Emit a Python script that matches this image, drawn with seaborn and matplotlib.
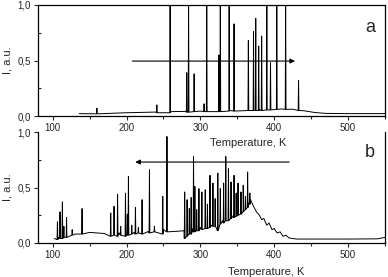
import numpy as np
import pandas as pd
import seaborn as sns
import matplotlib.pyplot as plt
from matplotlib.ticker import MultipleLocator, FuncFormatter

# panel a: slowly varying background
base_a_T = [136, 160, 200, 240, 260, 280, 300, 340, 380, 410, 425, 440, 455, 470, 500, 550]
base_a_I = [0.022, 0.024, 0.03, 0.036, 0.04, 0.042, 0.045, 0.05, 0.058, 0.064, 0.062, 0.048, 0.032, 0.024, 0.022, 0.022]
# panel a: spikes (1.05 = runs off the top of the axes)
spike_a_T = [159.8, 241, 259, 281.5, 284, 291.5, 305, 308.6, 325, 327, 339, 345.6,
             365, 372, 375, 379, 383, 390, 395, 403.5, 415.5, 433]
spike_a_hi = [0.07, 0.10, 1.05, 0.39, 1.05, 0.38, 0.11, 1.05, 0.55, 1.05, 1.05, 0.83,
              0.68, 0.76, 0.88, 0.63, 0.72, 1.05, 0.48, 1.05, 1.05, 0.32]
spike_a_lo = [0.02, 0.03, 0.03, 0.035, 0.035, 0.04, 0.04, 0.04, 0.04, 0.04, 0.045, 0.045,
              0.05, 0.05, 0.05, 0.05, 0.05, 0.055, 0.055, 0.06, 0.06, 0.05]

# panel b: background
base_b_T = [102, 108, 119, 130, 140, 150, 170, 190, 210, 230, 250, 268, 278, 290, 300, 315,
            330, 345, 358, 365, 368, 372, 376, 380, 383, 386, 390, 393, 397, 400, 404, 408,
            412, 416, 420, 430, 460, 500, 540, 550]
base_b_I = [0.04, 0.05, 0.06, 0.08, 0.09, 0.095, 0.085, 0.09, 0.095, 0.105, 0.12, 0.105, 0.11,
            0.13, 0.14, 0.16, 0.2, 0.25, 0.3, 0.36, 0.39, 0.33, 0.28, 0.25, 0.21, 0.22, 0.16,
            0.18, 0.12, 0.13, 0.09, 0.1, 0.06, 0.07, 0.045, 0.035, 0.035, 0.035, 0.037, 0.05]
spike_b_T = [106.3, 109.8, 113, 115, 118.7, 126.3, 139.7, 178.5, 183, 187.8, 192, 198.5, 201,
             202.5, 207, 212, 216, 221, 231, 237.7, 249, 254.7,
             278.7, 282, 285, 287.5, 290.7, 292.5, 295, 298, 302, 306.6, 309.5, 313, 317, 320,
             323.6, 327, 331.5, 334.4, 338, 341.5, 345.6, 348.5, 351, 355, 358, 361, 364, 367]
spike_b_hi = [0.19, 0.28, 0.37, 0.15, 0.23, 0.12, 0.31, 0.27, 0.33, 0.44, 0.15, 0.45, 0.26,
              0.60, 0.16, 0.32, 0.14, 0.39, 0.66, 0.15, 0.42, 0.96,
              0.46, 0.39, 0.31, 0.41, 0.78, 0.51, 0.30, 0.49, 0.46, 0.48, 0.35, 0.61, 0.54, 0.40,
              0.63, 0.49, 0.54, 0.78, 0.67, 0.55, 0.61, 0.45, 0.54, 0.46, 0.52, 0.42, 0.64, 0.45]
spike_b_lo = [0.03, 0.04, 0.04, 0.05, 0.05, 0.07, 0.08, 0.06, 0.07, 0.06, 0.07, 0.06, 0.07,
              0.07, 0.08, 0.08, 0.09, 0.08, 0.09, 0.10, 0.08, 0.10,
              0.04, 0.06, 0.08, 0.08, 0.10, 0.10, 0.11, 0.11, 0.12, 0.13, 0.13, 0.14, 0.15, 0.15,
              0.11, 0.17, 0.18, 0.20, 0.20, 0.22, 0.23, 0.24, 0.25, 0.26, 0.28, 0.30, 0.32, 0.35]


def trace(bT, bI, sT, shi, slo):
    T = list(bT)
    I = list(bI)
    for t, h, l in zip(sT, shi, slo):
        T += [t - 0.5, t, t + 0.5]
        I += [l, h, l]
    return pd.DataFrame({'T': T, 'I': I}).sort_values('T')


df_a = trace(base_a_T, base_a_I, spike_a_T, spike_a_hi, spike_a_lo)
df_b = trace(base_b_T, base_b_I, spike_b_T, spike_b_hi, spike_b_lo)

sns.set_style("ticks")
plt.rcParams['font.family'] = ['Liberation Sans', 'DejaVu Sans']

fig = plt.figure(figsize=(3.88, 2.77), dpi=100)
ax1 = fig.add_axes([0.098, 0.581, 0.894, 0.401])
ax2 = fig.add_axes([0.098, 0.123, 0.894, 0.400])
ax2.set_facecolor('none')  # let the upper x label show through

comma = FuncFormatter(lambda v, p: ('%.1f' % v).replace('.', ','))

for ax, df in [(ax1, df_a), (ax2, df_b)]:
    sns.lineplot(data=df, x='T', y='I', estimator=None, sort=False, color='black',
                 lw=0.7, ax=ax)
    ax.set_xlim(80, 550)
    ax.set_ylim(0, 1.0)
    ax.xaxis.set_major_locator(MultipleLocator(100))
    ax.xaxis.set_minor_locator(MultipleLocator(50))
    ax.yaxis.set_major_locator(MultipleLocator(0.5))
    ax.yaxis.set_minor_locator(MultipleLocator(0.25))
    ax.yaxis.set_major_formatter(comma)
    ax.tick_params(which='major', direction='out', length=3, width=0.8, labelsize=7, pad=2)
    ax.tick_params(axis='x', which='minor', direction='out', length=2, width=0.8)
    ax.tick_params(axis='y', which='minor', direction='in', length=2, width=0.8)
    for s in ax.spines.values():
        s.set_linewidth(0.9)
        s.set_color('black')
    ax.set_ylabel('I, a.u.', fontsize=8)
    ax.yaxis.set_label_coords(-0.075, 0.5)
    ax.set_xlabel('Temperature, K', fontsize=8)

ax1.xaxis.set_label_coords(0.605, -0.20)
ax2.xaxis.set_label_coords(0.657, -0.22)
ax2.spines['top'].set_visible(False)

ax1.annotate('', xy=(432, 0.495), xytext=(204, 0.495),
             arrowprops=dict(arrowstyle='-|>', lw=0.8, color='black', mutation_scale=7))
ax2.annotate('', xy=(208, 0.73), xytext=(424, 0.73),
             arrowprops=dict(arrowstyle='-|>', lw=0.8, color='black', mutation_scale=7))

ax1.text(0.957, 0.80, 'a', transform=ax1.transAxes, fontsize=13, ha='center', va='center')
ax2.text(0.957, 0.82, 'b', transform=ax2.transAxes, fontsize=13, ha='center', va='center')

fig.savefig('out.png', dpi=100)
